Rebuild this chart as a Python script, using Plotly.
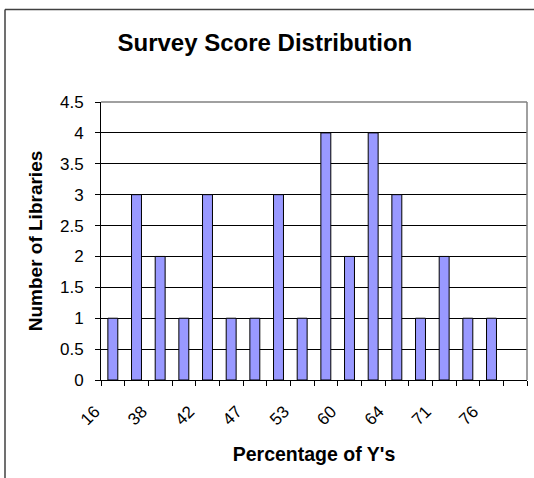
import plotly.graph_objects as go

categories = ["16", "36", "38", "40", "42", "45", "47", "50", "53", "56",
              "60", "62", "64", "68", "71", "73", "76", "78"]
libraries = [1, 3, 2, 1, 3, 1, 1, 3, 1, 4, 2, 4, 3, 1, 2, 1, 1, None]
shown_labels = [c if i % 2 == 0 else "" for i, c in enumerate(categories)]
y_ticks = [0, 0.5, 1, 1.5, 2, 2.5, 3, 3.5, 4, 4.5]

FONT = "Liberation Sans, Arial, sans-serif"

L, R, T, B = 101, 7, 102, 98
PW, PH = 534 - L - R, 478 - T - B

fig = go.Figure()
fig.add_trace(go.Bar(
    x=categories, y=libraries,
    marker=dict(color="#9999FF", line=dict(color="#000000", width=1)),
    width=0.42,
))

fig.update_layout(
    width=534, height=478,
    margin=dict(l=L, r=R, t=T, b=B, autoexpand=False),
    paper_bgcolor="white", plot_bgcolor="white",
    showlegend=False,
    font=dict(family=FONT, size=17, color="black"),
    title=dict(text="<b>Survey Score Distribution</b>", x=0.496, xanchor="center",
               y=1 - 43 / 478, yanchor="middle", font=dict(size=24, family=FONT)),
)

fig.update_xaxes(
    type="category", categoryorder="array", categoryarray=categories,
    range=[-0.5, len(categories) - 0.5], automargin=False,
    tickmode="array", tickvals=categories, ticktext=shown_labels,
    tickson="boundaries", ticks="outside", ticklen=5, tickcolor="black",
    tickangle=-45, ticklabelshift=-18, ticklabelstandoff=14,
    showline=True, linecolor="black", linewidth=1,
    showgrid=False, zeroline=False,
    title=dict(text="<b>Percentage of Y's</b>", font=dict(size=19.5), standoff=19),
)
fig.update_yaxes(
    range=[0, 4.5], tickmode="array", tickvals=y_ticks, automargin=False,
    ticktext=[f"{v:g}" for v in y_ticks],
    ticks="outside", ticklen=5, tickcolor="black", ticklabelstandoff=8,
    showline=True, linecolor="black", linewidth=1,
    showgrid=True, gridcolor="black", gridwidth=1, zeroline=False,
    title=dict(text="<b>Number of Libraries</b>", font=dict(size=19), standoff=12),
)

# plot area border (top / right in gray)
fig.add_shape(type="line", xref="paper", yref="paper", x0=0, x1=1, y0=1, y1=1,
              line=dict(color="#808080", width=1.5))
fig.add_shape(type="line", xref="paper", yref="paper", x0=1, x1=1, y0=0, y1=1,
              line=dict(color="#808080", width=1.5))
# chart outer frame (left / top edges visible)
frame_x = (5 - L) / PW
frame_y = 1 + (T - 9.5) / PH
fig.add_shape(type="line", xref="paper", yref="paper",
              x0=frame_x, x1=frame_x, y0=-0.5, y1=frame_y,
              line=dict(color="#404040", width=1.5), layer="below")
fig.add_shape(type="line", xref="paper", yref="paper",
              x0=frame_x, x1=1.2, y0=frame_y, y1=frame_y,
              line=dict(color="#404040", width=1.5), layer="below")

fig.write_html(
    "out.html",
    config={"displayModeBar": False, "staticPlot": True},
    post_script="document.body.style.margin='0';document.body.style.overflow='hidden';",
)
